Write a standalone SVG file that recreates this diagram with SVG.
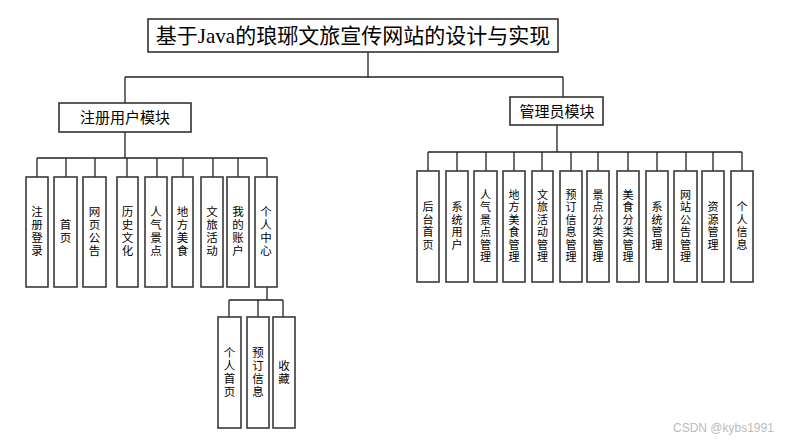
<svg xmlns="http://www.w3.org/2000/svg" width="799" height="443" viewBox="0 0 799 443">
<style>
.bx{fill:#fff;stroke:#3a3a3a;stroke-width:1.6}
.mod{fill:#fff;stroke:#333;stroke-width:1.6}
.ln{fill:none;stroke:#222;stroke-width:1.3}
.t{font-family:"Noto Sans CJK SC","Microsoft YaHei",sans-serif;font-size:11.5px;fill:#000;text-anchor:middle}
.r{font-size:11px}
.m{font-family:"Noto Sans CJK SC",sans-serif;font-size:15px;fill:#000;text-anchor:middle}
.ti{font-family:"Liberation Serif","Noto Sans CJK SC",serif;font-size:21px;fill:#000;text-anchor:middle}
.wm{font-family:"Liberation Sans",sans-serif;font-size:12px;fill:#bbb}
</style>
<rect width="799" height="443" fill="#fff"/>
<g id="connectors">
<path class="ln" d="M368,52V77M125,77H563M125,77V103M563,77V97"/>
<path class="ln" d="M125,132V158M37,158H267M37,158V177M66,158V177M95,158V177M127,158V177M157,158V177M183,158V177M213,158V177M238,158V177M267,158V177"/>
<path class="ln" d="M267,287V300M229,300H283M229,300V317M258,300V317M283,300V317"/>
<path class="ln" d="M557,125V152M428,152H742M428,152V171M457,152V171M486,152V171M514,152V171M542,152V171M571,152V171M598,152V171M628,152V171M657,152V171M686,152V171M713,152V171M742,152V171"/>
</g>
<g id="title"><rect class="mod" x="148" y="19" width="410" height="33"/><text class="ti" x="353" y="43">基于Java的琅琊文旅宣传网站的设计与实现</text></g>
<g id="user"><rect class="mod" x="59" y="103" width="132" height="29"/><text class="m" x="125" y="123">注册用户模块</text></g>
<g id="admin"><rect class="mod" x="510" y="97" width="93" height="28"/><text class="m" x="557" y="117">管理员模块</text></g>

<g id="u1"><rect class="bx" x="26" y="177" width="22" height="110"/><text class="t"><tspan x="37" y="216">注</tspan><tspan x="37" y="229">册</tspan><tspan x="37" y="242">登</tspan><tspan x="37" y="255">录</tspan></text></g>
<g id="u2"><rect class="bx" x="54" y="177" width="23" height="110"/><text class="t"><tspan x="65.5" y="229">首</tspan><tspan x="65.5" y="242">页</tspan></text></g>
<g id="u3"><rect class="bx" x="83" y="177" width="23" height="110"/><text class="t"><tspan x="94.5" y="216">网</tspan><tspan x="94.5" y="229">页</tspan><tspan x="94.5" y="242">公</tspan><tspan x="94.5" y="255">告</tspan></text></g>
<g id="u4"><rect class="bx" x="117" y="177" width="21" height="110"/><text class="t"><tspan x="127.5" y="216">历</tspan><tspan x="127.5" y="229">史</tspan><tspan x="127.5" y="242">文</tspan><tspan x="127.5" y="255">化</tspan></text></g>
<g id="u5"><rect class="bx" x="145" y="177" width="22" height="110"/><text class="t"><tspan x="156" y="216">人</tspan><tspan x="156" y="229">气</tspan><tspan x="156" y="242">景</tspan><tspan x="156" y="255">点</tspan></text></g>
<g id="u6"><rect class="bx" x="172" y="177" width="21" height="110"/><text class="t"><tspan x="182.5" y="216">地</tspan><tspan x="182.5" y="229">方</tspan><tspan x="182.5" y="242">美</tspan><tspan x="182.5" y="255">食</tspan></text></g>
<g id="u7"><rect class="bx" x="201" y="177" width="22" height="110"/><text class="t"><tspan x="212" y="216">文</tspan><tspan x="212" y="229">旅</tspan><tspan x="212" y="242">活</tspan><tspan x="212" y="255">动</tspan></text></g>
<g id="u8"><rect class="bx" x="227" y="177" width="22" height="110"/><text class="t"><tspan x="238" y="216">我</tspan><tspan x="238" y="229">的</tspan><tspan x="238" y="242">账</tspan><tspan x="238" y="255">户</tspan></text></g>
<g id="u9"><rect class="bx" x="255" y="177" width="22" height="110"/><text class="t"><tspan x="266" y="216">个</tspan><tspan x="266" y="229">人</tspan><tspan x="266" y="242">中</tspan><tspan x="266" y="255">心</tspan></text></g>

<g id="s1"><rect class="bx" x="218" y="317" width="23" height="111"/><text class="t"><tspan x="229.5" y="357">个</tspan><tspan x="229.5" y="370">人</tspan><tspan x="229.5" y="383">首</tspan><tspan x="229.5" y="396">页</tspan></text></g>
<g id="s2"><rect class="bx" x="247" y="317" width="22" height="111"/><text class="t"><tspan x="258" y="357">预</tspan><tspan x="258" y="370">订</tspan><tspan x="258" y="383">信</tspan><tspan x="258" y="396">息</tspan></text></g>
<g id="s3"><rect class="bx" x="273" y="317" width="22" height="111"/><text class="t"><tspan x="284" y="370">收</tspan><tspan x="284" y="383">藏</tspan></text></g>

<g id="a1"><rect class="bx" x="417" y="171" width="22" height="111"/><text class="t r"><tspan x="428" y="211">后</tspan><tspan x="428" y="223.5">台</tspan><tspan x="428" y="236">首</tspan><tspan x="428" y="248.5">页</tspan></text></g>
<g id="a2"><rect class="bx" x="446" y="171" width="22" height="111"/><text class="t r"><tspan x="457" y="211">系</tspan><tspan x="457" y="223.5">统</tspan><tspan x="457" y="236">用</tspan><tspan x="457" y="248.5">户</tspan></text></g>
<g id="a3"><rect class="bx" x="474" y="171" width="23" height="111"/><text class="t r"><tspan x="485.5" y="198.5">人</tspan><tspan x="485.5" y="211">气</tspan><tspan x="485.5" y="223.5">景</tspan><tspan x="485.5" y="236">点</tspan><tspan x="485.5" y="248.5">管</tspan><tspan x="485.5" y="261">理</tspan></text></g>
<g id="a4"><rect class="bx" x="503" y="171" width="22" height="111"/><text class="t r"><tspan x="514" y="198.5">地</tspan><tspan x="514" y="211">方</tspan><tspan x="514" y="223.5">美</tspan><tspan x="514" y="236">食</tspan><tspan x="514" y="248.5">管</tspan><tspan x="514" y="261">理</tspan></text></g>
<g id="a5"><rect class="bx" x="532" y="171" width="21" height="111"/><text class="t r"><tspan x="542.5" y="198.5">文</tspan><tspan x="542.5" y="211">旅</tspan><tspan x="542.5" y="223.5">活</tspan><tspan x="542.5" y="236">动</tspan><tspan x="542.5" y="248.5">管</tspan><tspan x="542.5" y="261">理</tspan></text></g>
<g id="a6"><rect class="bx" x="560" y="171" width="22" height="111"/><text class="t r"><tspan x="571" y="198.5">预</tspan><tspan x="571" y="211">订</tspan><tspan x="571" y="223.5">信</tspan><tspan x="571" y="236">息</tspan><tspan x="571" y="248.5">管</tspan><tspan x="571" y="261">理</tspan></text></g>
<g id="a7"><rect class="bx" x="587" y="171" width="22" height="111"/><text class="t r"><tspan x="598" y="198.5">景</tspan><tspan x="598" y="211">点</tspan><tspan x="598" y="223.5">分</tspan><tspan x="598" y="236">类</tspan><tspan x="598" y="248.5">管</tspan><tspan x="598" y="261">理</tspan></text></g>
<g id="a8"><rect class="bx" x="617" y="171" width="22" height="111"/><text class="t r"><tspan x="628" y="198.5">美</tspan><tspan x="628" y="211">食</tspan><tspan x="628" y="223.5">分</tspan><tspan x="628" y="236">类</tspan><tspan x="628" y="248.5">管</tspan><tspan x="628" y="261">理</tspan></text></g>
<g id="a9"><rect class="bx" x="646" y="171" width="22" height="111"/><text class="t r"><tspan x="657" y="211">系</tspan><tspan x="657" y="223.5">统</tspan><tspan x="657" y="236">管</tspan><tspan x="657" y="248.5">理</tspan></text></g>
<g id="a10"><rect class="bx" x="674" y="171" width="23" height="111"/><text class="t r"><tspan x="685.5" y="198.5">网</tspan><tspan x="685.5" y="211">站</tspan><tspan x="685.5" y="223.5">公</tspan><tspan x="685.5" y="236">告</tspan><tspan x="685.5" y="248.5">管</tspan><tspan x="685.5" y="261">理</tspan></text></g>
<g id="a11"><rect class="bx" x="702" y="171" width="22" height="111"/><text class="t r"><tspan x="713" y="211">资</tspan><tspan x="713" y="223.5">源</tspan><tspan x="713" y="236">管</tspan><tspan x="713" y="248.5">理</tspan></text></g>
<g id="a12"><rect class="bx" x="731" y="171" width="22" height="111"/><text class="t r"><tspan x="742" y="211">个</tspan><tspan x="742" y="223.5">人</tspan><tspan x="742" y="236">信</tspan><tspan x="742" y="248.5">息</tspan></text></g>

<text class="wm" x="673" y="432">CSDN @kybs1991</text>
</svg>
